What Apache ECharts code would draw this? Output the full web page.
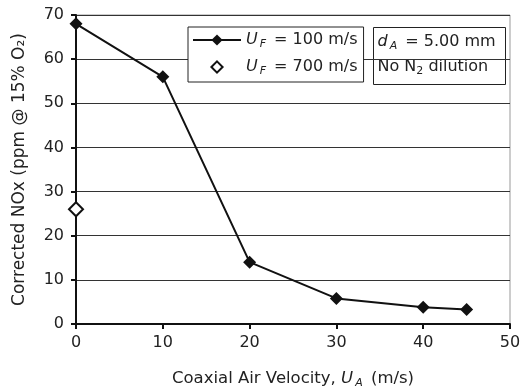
<!DOCTYPE html>
<html><head><meta charset="utf-8">
<script src="https://cdn.jsdelivr.net/npm/echarts@6/dist/echarts.min.js"></script>
<style>html,body{margin:0;padding:0;background:#fff}#c{width:521px;height:391px}</style>
</head><body><div id="c"></div>
<script>
const uA = [0, 10, 20, 30, 40, 45];
const nox100 = [68, 56, 14, 5.8, 3.8, 3.3];
const uA700 = [0];
const nox700 = [26];
const xTicks = [0, 10, 20, 30, 40, 50];
const yTicks = [0, 10, 20, 30, 40, 50, 60, 70];

const FONT = 'DejaVu Sans';
const FS = 16;
const chart = echarts.init(document.getElementById('c'), null, {renderer: 'canvas'});
const s1 = uA.map((x, i) => [x, nox100[i]]);
const s2 = uA700.map((x, i) => [x, nox700[i]]);
const rich = {
  n: {fontSize: FS, color: '#222', fontFamily: FONT},
  i: {fontSize: FS, color: '#222', fontStyle: 'italic', fontFamily: FONT},
  s: {fontSize: 11, color: '#222', fontStyle: 'italic', fontFamily: FONT, verticalAlign: 'bottom', padding: [9, 3, 0, 2]},
  u: {fontSize: 11, color: '#222', fontFamily: FONT, verticalAlign: 'bottom', padding: [9, 0, 0, 0]}
};
const xrich = {};
Object.keys(rich).forEach(k => { xrich[k] = Object.assign({}, rich[k]); });
xrich.n.fontSize = 16.5; xrich.i.fontSize = 16.5;
const grich = {};
Object.keys(rich).forEach(k => { grich[k] = Object.assign({}, rich[k], {fill: '#222'}); delete grich[k].color; });
chart.setOption({
  animation: false,
  backgroundColor: '#fff',
  textStyle: {fontFamily: FONT},
  grid: {left: 76, right: 11, top: 15, bottom: 67, show: true, borderColor: '#999', borderWidth: 1, outerBoundsMode: 'none', containLabel: false},
  xAxis: {
    type: 'value', min: xTicks[0], max: xTicks[xTicks.length - 1], interval: 10,
    axisLine: {lineStyle: {color: '#111', width: 2}},
    axisTick: {show: true, length: 5, inside: false, lineStyle: {color: '#111', width: 2}},
    axisLabel: {color: '#222', fontSize: FS, fontFamily: FONT, margin: 11},
    splitLine: {show: false},
    name: '{n|Coaxial Air Velocity, }{i|U}{s|A}{n| (m/s)}',
    nameLocation: 'middle', nameGap: 45,
    nameTextStyle: {rich: xrich}
  },
  yAxis: {
    type: 'value', min: yTicks[0], max: yTicks[yTicks.length - 1], interval: 10,
    axisLine: {show: true, lineStyle: {color: '#111', width: 2}},
    axisTick: {show: true, length: 5, lineStyle: {color: '#111', width: 2}},
    axisLabel: {color: '#222', fontSize: FS, fontFamily: FONT, margin: 12},
    splitLine: {show: true, lineStyle: {color: '#333', width: 1}},
    name: 'Corrected NOx (ppm @ 15% O₂)',
    nameLocation: 'middle', nameGap: 48,
    nameTextStyle: {fontSize: 17, color: '#222', fontFamily: FONT}
  },
  legend: {
    left: 188, top: 27, orient: 'vertical',
    backgroundColor: '#fff', borderColor: '#222', borderWidth: 1,
    padding: [5, 6, 5, 4], itemGap: 9, itemWidth: 48, itemHeight: 14,
    data: [{name: 'a'}, {name: 'b'}],
    formatter: function (n) {
      return n === 'a' ? '{i|U}{s|F}{n| = 100 m/s}' : '{i|U}{s|F}{n| = 700 m/s}';
    },
    textStyle: {rich: rich}
  },
  graphic: [{
    type: 'group', left: 373, top: 27,
    children: [
      {type: 'rect', shape: {x: 0, y: 0, width: 132, height: 57}, style: {fill: '#fff', stroke: '#222', lineWidth: 1}},
      {type: 'text', x: 4, y: 4, style: {text: '{i|d}{s|A}{n| = 5.00 mm}', rich: grich}},
      {type: 'text', x: 4, y: 29, style: {text: '{n|No N}{u|2}{n| dilution}', rich: grich}}
    ]
  }],
  series: [
    {name: 'a', type: 'line', data: s1, symbol: 'diamond', symbolSize: 13,
     lineStyle: {color: '#111', width: 2}, itemStyle: {color: '#111'}, z: 5},
    {name: 'b', type: 'line', data: s2, symbol: 'diamond', symbolSize: 14,
     lineStyle: {width: 0, opacity: 0}, itemStyle: {color: '#fff', borderColor: '#111', borderWidth: 2}, z: 6}
  ]
});
</script></body></html>
